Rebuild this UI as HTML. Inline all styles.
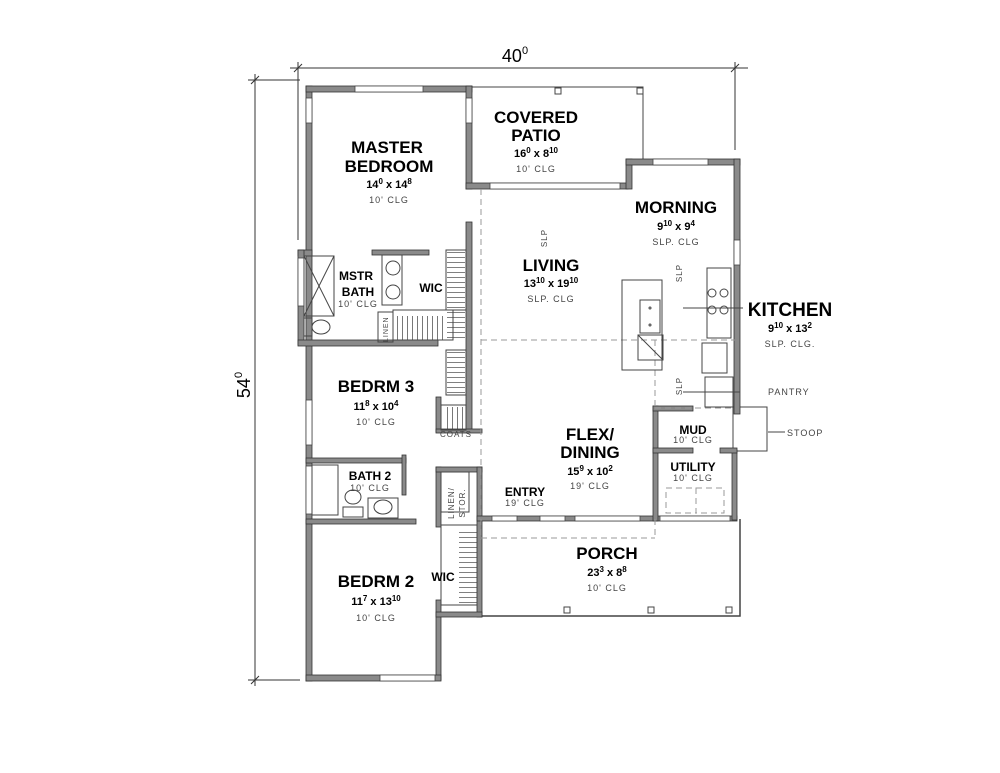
<!DOCTYPE html>
<html><head><style>
html,body{margin:0;padding:0;background:#fff;}
svg{display:block;font-family:"Liberation Sans",Arial,sans-serif;}
.w{fill:#8a8a8a;stroke:#333;stroke-width:0.8}
.t{stroke:#444;stroke-width:1;fill:none}
.d{stroke:#999;stroke-width:1;fill:none;stroke-dasharray:6 4}
.n{font-weight:bold;font-size:17px;text-anchor:middle;fill:#000}
.s{font-weight:bold;font-size:11px;text-anchor:middle;fill:#000}
.c{font-size:9px;text-anchor:middle;fill:#444;letter-spacing:1px}
</style></head><body>
<svg width="1000" height="773" viewBox="0 0 1000 773">
<defs>
<pattern id="hh" width="20" height="5" patternUnits="userSpaceOnUse"><line x1="0" y1="2.5" x2="20" y2="2.5" stroke="#555" stroke-width="0.8"/></pattern>
<pattern id="hv" width="5" height="20" patternUnits="userSpaceOnUse"><line x1="2.5" y1="0" x2="2.5" y2="20" stroke="#555" stroke-width="0.8"/></pattern>
</defs>
<g stroke="#333" stroke-width="1" fill="none">
<line x1="290" y1="68" x2="748" y2="68"/>
<line x1="294" y1="72" x2="302" y2="64"/><line x1="731" y1="72" x2="739" y2="64"/>
<line x1="298" y1="62" x2="298" y2="240"/><line x1="735" y1="62" x2="735" y2="150"/>
<line x1="255" y1="74" x2="255" y2="686"/>
<line x1="251" y1="84" x2="259" y2="76"/><line x1="251" y1="684" x2="259" y2="676"/>
<line x1="248" y1="80" x2="300" y2="80"/><line x1="248" y1="680" x2="300" y2="680"/>
</g>
<text x="515" y="62" class="n" style="font-weight:normal;font-size:18px">40<tspan dy="-8" font-size="11">0</tspan></text>
<text transform="translate(250,385) rotate(-90)" class="n" style="font-weight:normal;font-size:18px">54<tspan dy="-8" font-size="11">0</tspan></text>

<g class="t">
<polyline points="469,87 643,87 643,160"/>
<polyline points="480,616 740,616 740,519" stroke-width="1.5"/>
<rect x="733" y="407" width="34" height="44"/>
<rect x="555" y="88" width="6" height="6"/><rect x="637" y="88" width="6" height="6"/>
<rect x="564" y="607" width="6" height="6"/><rect x="648" y="607" width="6" height="6"/><rect x="726" y="607" width="6" height="6"/>
</g>

<!-- closet hatch -->
<rect x="447" y="252" width="18" height="90" fill="url(#hh)"/>
<rect x="396" y="316" width="50" height="24" fill="url(#hv)"/>
<rect x="447" y="350" width="18" height="45" fill="url(#hh)"/>
<rect x="443" y="407" width="22" height="22" fill="url(#hv)"/>
<rect x="459" y="528" width="18" height="78" fill="url(#hh)"/>

<g class="w">
<rect x="306" y="86" width="6" height="595"/>
<rect x="306" y="86" width="166" height="6"/>
<rect x="466" y="86" width="6" height="103"/>
<rect x="466" y="183" width="162" height="6"/>
<rect x="626" y="159" width="6" height="30"/>
<rect x="626" y="159" width="114" height="6"/>
<rect x="734" y="159" width="6" height="255"/>
<rect x="298" y="250" width="14" height="6"/>
<rect x="298" y="250" width="6" height="95"/>
<rect x="298" y="340" width="140" height="6"/>
<rect x="372" y="250" width="57" height="5"/>
<rect x="466" y="222" width="6" height="210"/>
<rect x="436" y="397" width="5" height="35"/>
<rect x="436" y="429" width="46" height="4"/>
<rect x="306" y="458" width="100" height="5"/>
<rect x="402" y="455" width="4" height="40"/>
<rect x="306" y="519" width="110" height="5"/>
<rect x="436" y="467" width="5" height="60"/>
<rect x="436" y="467" width="46" height="5"/>
<rect x="477" y="467" width="5" height="150"/>
<rect x="436" y="600" width="5" height="80"/>
<rect x="436" y="612" width="46" height="5"/>
<rect x="306" y="675" width="135" height="6"/>
<rect x="477" y="516" width="260" height="5"/>
<rect x="653" y="406" width="5" height="115"/>
<rect x="653" y="406" width="40" height="5"/>
<rect x="653" y="448" width="40" height="5"/>
<rect x="732" y="450" width="5" height="70"/>
<rect x="720" y="448" width="17" height="5"/>
</g>
<g fill="#fff" stroke="#444" stroke-width="0.8">
<rect x="355" y="86" width="68" height="6"/>
<rect x="306" y="98" width="6" height="25"/><rect x="466" y="98" width="6" height="25"/>
<rect x="490" y="183" width="130" height="6"/>
<rect x="653" y="159" width="55" height="6"/>
<rect x="734" y="240" width="6" height="25"/>
<rect x="298" y="258" width="6" height="48"/>
<rect x="306" y="400" width="6" height="45"/>
<rect x="306" y="466" width="6" height="48"/>
<rect x="380" y="675" width="55" height="6"/>
<rect x="492" y="516" width="25" height="5"/><rect x="540" y="516" width="25" height="5"/><rect x="575" y="516" width="65" height="5"/>
<rect x="660" y="516" width="70" height="5"/>
</g>

<g class="d">
<line x1="481" y1="189" x2="481" y2="540"/>
<line x1="481" y1="340" x2="735" y2="340"/>
<line x1="481" y1="538" x2="655" y2="538"/>
<line x1="655" y1="519" x2="655" y2="538"/>
<line x1="655" y1="340" x2="655" y2="406"/>
<line x1="655" y1="408" x2="735" y2="408"/>
<rect x="666" y="488" width="30" height="25"/><rect x="696" y="488" width="28" height="25"/>
</g>

<g class="t" stroke-width="0.8">
<rect x="304" y="256" width="30" height="60"/><line x1="304" y1="256" x2="334" y2="316"/><line x1="334" y1="256" x2="304" y2="316"/>
<ellipse cx="321" cy="327" rx="9" ry="7"/><rect x="304" y="318" width="8" height="18"/>
<circle cx="393" cy="268" r="7"/><circle cx="393" cy="292" r="7"/>
<rect x="382" y="255" width="20" height="50"/>
<rect x="378" y="312" width="15" height="30"/>
<rect x="393" y="310" width="60" height="30"/>
<rect x="446" y="250" width="20" height="60"/>
<rect x="446" y="350" width="20" height="45"/>
<rect x="441" y="405" width="25" height="25"/>
<rect x="312" y="465" width="26" height="50"/>
<ellipse cx="353" cy="497" rx="8" ry="7"/><rect x="343" y="507" width="20" height="10"/>
<rect x="368" y="498" width="30" height="20"/><ellipse cx="383" cy="507" rx="9" ry="7"/>
<rect x="441" y="472" width="28" height="40"/>
<rect x="441" y="525" width="36" height="80"/>
<rect x="622" y="280" width="40" height="90"/>
<rect x="640" y="300" width="20" height="33"/>
<circle cx="650" cy="308" r="1"/><circle cx="650" cy="325" r="1"/>
<rect x="638" y="335" width="25" height="25"/><line x1="638" y1="335" x2="663" y2="360"/>
<rect x="707" y="268" width="24" height="70"/>
<circle cx="712" cy="293" r="4"/><circle cx="724" cy="293" r="4"/><circle cx="712" cy="310" r="4"/><circle cx="724" cy="310" r="4"/>
<rect x="702" y="343" width="25" height="30"/>
<rect x="705" y="377" width="28" height="30"/>
<line x1="683" y1="308" x2="743" y2="308"/>
<line x1="683" y1="392" x2="740" y2="392"/>
<line x1="768" y1="432" x2="785" y2="432"/>
</g>

<text x="536" y="123" class="n">COVERED</text><text x="536" y="141" class="n">PATIO</text>
<text x="536" y="157" class="s">16<tspan dy="-4" font-size="8">0</tspan><tspan dy="4"> x 8</tspan><tspan dy="-4" font-size="8">10</tspan></text>
<text x="536" y="172" class="c">10' CLG</text>
<text x="387" y="153" class="n">MASTER</text><text x="389" y="172" class="n">BEDROOM</text>
<text x="389" y="188" class="s">14<tspan dy="-4" font-size="8">0</tspan><tspan dy="4"> x 14</tspan><tspan dy="-4" font-size="8">8</tspan></text>
<text x="389" y="203" class="c">10' CLG</text>
<text x="676" y="213" class="n">MORNING</text>
<text x="676" y="230" class="s">9<tspan dy="-4" font-size="8">10</tspan><tspan dy="4"> x 9</tspan><tspan dy="-4" font-size="8">4</tspan></text>
<text x="676" y="245" class="c">SLP. CLG</text>
<text x="551" y="271" class="n">LIVING</text>
<text x="551" y="287" class="s">13<tspan dy="-4" font-size="8">10</tspan><tspan dy="4"> x 19</tspan><tspan dy="-4" font-size="8">10</tspan></text>
<text x="551" y="302" class="c">SLP. CLG</text>
<text x="356" y="280" class="s" style="font-size:12px">MSTR</text><text x="358" y="296" class="s" style="font-size:12px">BATH</text>
<text x="358" y="307" class="c">10' CLG</text>
<text x="431" y="292" class="s" style="font-size:12px">WIC</text>
<text x="790" y="316" class="n" style="font-size:19px">KITCHEN</text>
<text x="790" y="332" class="s">9<tspan dy="-4" font-size="8">10</tspan><tspan dy="4"> x 13</tspan><tspan dy="-4" font-size="8">2</tspan></text>
<text x="790" y="347" class="c">SLP. CLG.</text>
<text x="768" y="395" class="c" style="text-anchor:start">PANTRY</text>
<text x="787" y="436" class="c" style="text-anchor:start">STOOP</text>
<text x="376" y="392" class="n">BEDRM 3</text>
<text x="376" y="410" class="s">11<tspan dy="-4" font-size="8">8</tspan><tspan dy="4"> x 10</tspan><tspan dy="-4" font-size="8">4</tspan></text>
<text x="376" y="425" class="c">10' CLG</text>
<text x="456" y="437" class="c" style="font-size:8px">COATS</text>
<text x="590" y="440" class="n">FLEX/</text><text x="590" y="458" class="n">DINING</text>
<text x="590" y="475" class="s">15<tspan dy="-4" font-size="8">9</tspan><tspan dy="4"> x 10</tspan><tspan dy="-4" font-size="8">2</tspan></text>
<text x="590" y="489" class="c">19' CLG</text>
<text x="693" y="434" class="s" style="font-size:12px">MUD</text>
<text x="693" y="443" class="c">10' CLG</text>
<text x="693" y="471" class="s" style="font-size:12px">UTILITY</text>
<text x="693" y="481" class="c">10' CLG</text>
<text x="370" y="480" class="s" style="font-size:12px">BATH 2</text>
<text x="370" y="491" class="c">10' CLG</text>
<text x="525" y="496" class="s" style="font-size:12px">ENTRY</text>
<text x="525" y="506" class="c">19' CLG</text>
<text transform="translate(454,503) rotate(-90)" class="c" style="font-size:8px">LINEN/</text>
<text transform="translate(465,503) rotate(-90)" class="c" style="font-size:8px">STOR.</text>
<text transform="translate(388,342) rotate(-90)" class="c" style="font-size:7px;text-anchor:start">LINEN</text>
<text x="607" y="559" class="n">PORCH</text>
<text x="607" y="576" class="s">23<tspan dy="-4" font-size="8">3</tspan><tspan dy="4"> x 8</tspan><tspan dy="-4" font-size="8">8</tspan></text>
<text x="607" y="591" class="c">10' CLG</text>
<text x="443" y="581" class="s" style="font-size:12px">WIC</text>
<text x="376" y="587" class="n">BEDRM 2</text>
<text x="376" y="605" class="s">11<tspan dy="-4" font-size="8">7</tspan><tspan dy="4"> x 13</tspan><tspan dy="-4" font-size="8">10</tspan></text>
<text x="376" y="621" class="c">10' CLG</text>
<text transform="translate(547,238) rotate(-90)" class="c" style="font-size:8px">SLP</text>
<text transform="translate(682,273) rotate(-90)" class="c" style="font-size:8px">SLP</text>
<text transform="translate(682,386) rotate(-90)" class="c" style="font-size:8px">SLP</text>
</svg>
</body></html>
